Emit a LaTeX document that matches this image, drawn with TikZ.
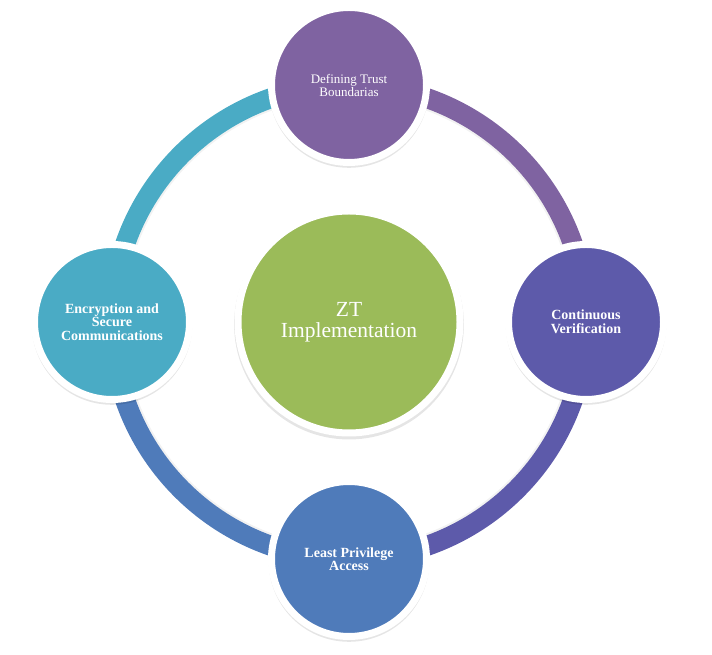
\documentclass[tikz,border=0pt]{standalone}
\usepackage{fontspec}
\setmainfont{Liberation Serif}
\usetikzlibrary{shadows}
\definecolor{cTop}{HTML}{7F63A1}
\definecolor{cRight}{HTML}{5D5AAA}
\definecolor{cBottom}{HTML}{4F7BBA}
\definecolor{cLeft}{HTML}{4AABC5}
\definecolor{cCenter}{HTML}{9BBB59}
\tikzset{
  bubble/.style={circle, draw=white, line width=7bp, minimum size=155bp, inner sep=0pt,
    text=white, align=center, font=\fontsize{13bp}{13bp}\selectfont,
    drop shadow={shadow xshift=0bp, shadow yshift=-2.5bp, shadow scale=1.035, fill=black, opacity=0.10}},
  boldtext/.style={font=\fontsize{14bp}{13.5bp}\selectfont\bfseries},
  hub/.style={bubble, minimum size=222bp, font=\fontsize{21.5bp}{21bp}\selectfont},
  ring/.style={line width=20bp, draw=#1},
  ringshadow/.style={line width=20bp, draw=black, opacity=0.05},
}
\begin{document}
\begin{tikzpicture}[x=1bp,y=1bp]
\useasboundingbox (0,0) rectangle (712,655);
\coordinate (c) at (349,333);
% ring shadow
\draw[ringshadow] (349,568) arc[start angle=90, end angle=-270, radius=235];
\path (349,570) coordinate (pt) (586,333) coordinate (pr) (349,96) coordinate (pb) (112,333) coordinate (pl);
\draw[ring=cTop] (pt) arc[start angle=90, end angle=0, radius=237];
\draw[ring=cRight] (pr) arc[start angle=0, end angle=-90, radius=237];
\draw[ring=cBottom] (pb) arc[start angle=-90, end angle=-180, radius=237];
\draw[ring=cLeft] (pl) arc[start angle=180, end angle=90, radius=237];
\node[hub, fill=cCenter] (hub) at (349,333) {ZT\\Implementation};
\node[bubble, fill=cTop] (top) at (pt) {Defining Trust\\Boundarias};
\node[bubble, fill=cRight, boldtext] (right) at (pr) {Continuous\\Verification};
\node[bubble, fill=cBottom, boldtext] (bottom) at (pb) {Least Privilege\\Access};
\node[bubble, fill=cLeft, boldtext] (left) at (pl) {Encryption and\\Secure\\Communications};
\end{tikzpicture}
\end{document}
